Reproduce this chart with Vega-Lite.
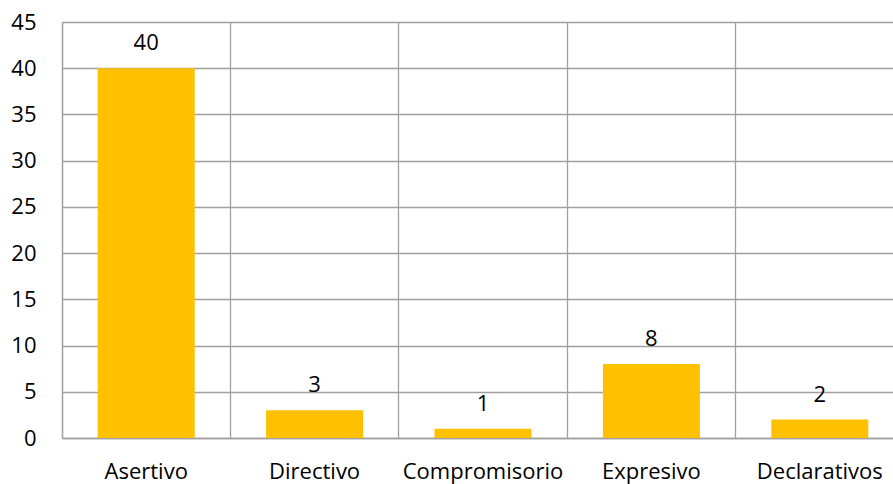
{
  "$schema": "https://vega.github.io/schema/vega-lite/v6.json",
  "autosize": "none",
  "padding": {"left": 62, "top": 22, "right": 0, "bottom": 46},
  "width": 842,
  "height": 416,
  "data": {"values": [
    {"categoria": "Asertivo", "valor": 40},
    {"categoria": "Directivo", "valor": 3},
    {"categoria": "Compromisorio", "valor": 1},
    {"categoria": "Expresivo", "valor": 8},
    {"categoria": "Declarativos", "valor": 2}
  ]},
  "config": {
    "view": {"stroke": null},
    "font": "Open Sans"
  },
  "encoding": {
    "x": {
      "field": "categoria", "type": "nominal", "sort": null,
      "scale": {"paddingInner": 0, "paddingOuter": 0},
      "axis": {
        "title": null, "labelAngle": 0, "labelFontSize": 22, "labelColor": "#000000",
        "labelPadding": 23, "ticks": false, "domainColor": "#a0a0a0", "domainWidth": 1.3,
        "grid": true, "gridColor": "#a0a0a0", "gridWidth": 1.3, "bandPosition": 0
      }
    },
    "y": {
      "field": "valor", "type": "quantitative",
      "scale": {"domain": [0, 45], "nice": false},
      "axis": {
        "title": null, "values": [0, 5, 10, 15, 20, 25, 30, 35, 40, 45],
        "labelFontSize": 22, "labelColor": "#000000", "labelPadding": 26,
        "ticks": false, "domain": true, "domainColor": "#a0a0a0", "domainWidth": 1.3,
        "gridColor": "#a0a0a0", "gridWidth": 1.3
      }
    }
  },
  "layer": [
    {"mark": {"type": "bar", "color": "#FFC000", "width": {"band": 0.576}}},
    {"mark": {"type": "text", "baseline": "alphabetic", "dy": -18, "fontSize": 22, "color": "#000000"},
     "encoding": {"text": {"field": "valor", "type": "quantitative"}}}
  ]
}
